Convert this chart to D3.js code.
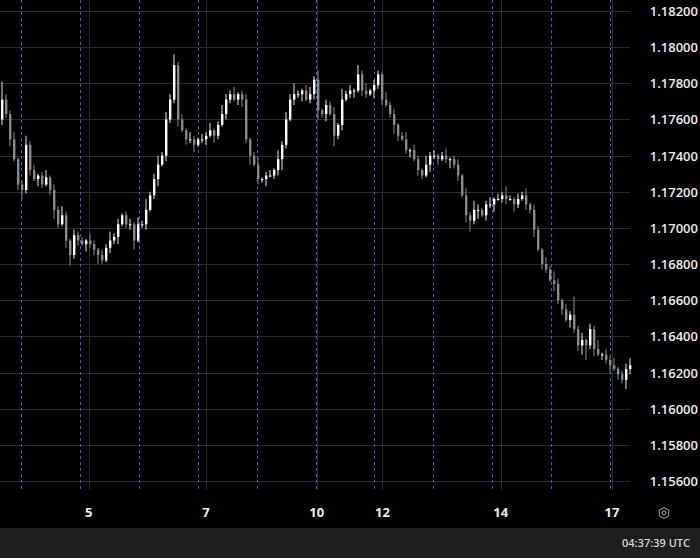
<!DOCTYPE html>
<html>
<head>
<meta charset="utf-8">
<script src="https://cdn.jsdelivr.net/npm/d3@7"></script>
<style>
body { margin: 0; background: #000; }
svg { display: block; font-family: "Open Sans", "DejaVu Sans", sans-serif; }
</style>
</head>
<body>
<svg id="chart" width="700" height="558"></svg>
<script>
var closes = [1.1771, 1.1763, 1.1749, 1.1738, 1.1724, 1.1721, 1.1746, 1.1732, 1.1727, 1.1729,
	1.1724, 1.1728, 1.1721, 1.1710, 1.1702, 1.1707, 1.1693, 1.1685, 1.1696, 1.1693,
	1.1691, 1.1693, 1.1691, 1.1688, 1.1685, 1.1682, 1.1689, 1.1693, 1.1695, 1.1702,
	1.1707, 1.1702, 1.1702, 1.1693, 1.1702, 1.1702, 1.1710, 1.1718, 1.1727, 1.1735,
	1.1740, 1.1760, 1.1771, 1.1790, 1.1760, 1.1754, 1.1749, 1.1749, 1.1746, 1.1749,
	1.1749, 1.1751, 1.1754, 1.1751, 1.1757, 1.1763, 1.1771, 1.1774, 1.1771, 1.1774,
	1.1771, 1.1749, 1.1740, 1.1735, 1.1727, 1.1727, 1.1729, 1.1729, 1.1732, 1.1738,
	1.1746, 1.1760, 1.1771, 1.1774, 1.1774, 1.1776, 1.1771, 1.1774, 1.1782, 1.1765,
	1.1763, 1.1768, 1.1763, 1.1751, 1.1757, 1.1771, 1.1774, 1.1776, 1.1776, 1.1785,
	1.1776, 1.1774, 1.1776, 1.1779, 1.1785, 1.1771, 1.1768, 1.1763, 1.1757, 1.1751,
	1.1749, 1.1743, 1.1743, 1.1738, 1.1732, 1.1729, 1.1735, 1.1740, 1.1740, 1.1738,
	1.1740, 1.1738, 1.1738, 1.1735, 1.1729, 1.1718, 1.1707, 1.1704, 1.1710, 1.1710,
	1.1707, 1.1713, 1.1713, 1.1716, 1.1716, 1.1718, 1.1716, 1.1716, 1.1713, 1.1716,
	1.1718, 1.1713, 1.1710, 1.1699, 1.1688, 1.1680, 1.1677, 1.1671, 1.1669, 1.1660,
	1.1655, 1.1649, 1.1652, 1.1644, 1.1635, 1.1638, 1.1635, 1.1644, 1.1633, 1.1630,
	1.1630, 1.1627, 1.1624, 1.1622, 1.1619, 1.1616, 1.1622, 1.1624];
var firstOpen = 1.1760;
// wick lengths in pips above / below the body
var wickUp = [10, 3, 2, 4, 1, 2, 5, 2, 3, 1, 2, 4, 1, 3, 2, 5, 2, 1, 3, 2,
	2, 1, 4, 2, 1, 3, 2, 5, 2, 3, 1, 2, 3, 1, 4, 2, 6, 2, 3, 5,
	2, 4, 3, 6, 2, 3, 1, 4, 2, 1, 3, 2, 4, 1, 2, 5, 3, 2, 4, 1,
	2, 3, 1, 2, 4, 1, 2, 3, 1, 5, 2, 4, 3, 6, 2, 1, 3, 4, 2, 5,
	1, 3, 2, 4, 1, 6, 2, 3, 1, 5, 2, 4, 1, 3, 2, 1, 4, 2, 3, 1,
	2, 4, 1, 3, 2, 1, 5, 2, 3, 1, 2, 4, 1, 2, 3, 1, 4, 2, 5, 3,
	1, 2, 4, 1, 3, 2, 5, 2, 1, 3, 2, 4, 1, 3, 2, 1, 4, 2, 5, 3,
	1, 3, 2, 10, 2, 4, 1, 3, 2, 5, 1, 3, 2, 4, 1, 2, 3, 4];
var wickDown = [3, 2, 4, 1, 3, 5, 2, 3, 1, 4, 2, 1, 3, 5, 2, 1, 4, 6, 2, 3,
	1, 4, 2, 3, 5, 2, 1, 3, 2, 4, 1, 2, 3, 5, 1, 2, 3, 1, 2, 4,
	1, 3, 2, 2, 4, 1, 3, 2, 4, 1, 2, 3, 1, 4, 2, 1, 3, 2, 1, 3,
	4, 2, 5, 1, 3, 2, 4, 1, 2, 3, 6, 2, 1, 3, 2, 4, 1, 2, 3, 5,
	2, 4, 1, 6, 2, 3, 1, 2, 4, 1, 3, 2, 1, 4, 2, 3, 1, 2, 5, 3,
	1, 2, 4, 1, 3, 2, 1, 4, 2, 3, 1, 2, 5, 2, 3, 1, 4, 6, 2, 5,
	1, 3, 2, 4, 1, 2, 3, 1, 4, 2, 1, 3, 2, 4, 1, 3, 2, 1, 4, 2,
	3, 1, 4, 2, 3, 5, 8, 2, 4, 1, 3, 2, 4, 1, 3, 2, 5, 3];
var priceTicks = [1.182, 1.180, 1.178, 1.176, 1.174, 1.172, 1.170, 1.168, 1.166, 1.164, 1.162, 1.160, 1.158, 1.156];
var dayLabels = ["5", "7", "10", "12", "14", "17"];
var dayIndex = [22.2, 51.5, 79.2, 95.6, 125.2, 153];
var sessionBreaks = [5.25, 20, 34.75, 49.5, 64.25, 79, 93.6, 108.3, 123, 137.8, 152.5];

function init() {
	var svg = d3.select("#chart");
	var plotRight = 630;
	var x = d3.scaleLinear().domain([0, 158]).range([0, 632]);
	var y = d3.scaleLinear().domain([1.156, 1.182]).range([481, 11]);

	var candles = [];
	for (var ii = 0; ii < closes.length; ++ii) {
		var o = ii == 0 ? firstOpen : closes[ii - 1];
		var c = closes[ii];
		candles.push({ i: ii, o: o, c: c,
			h: Math.max(o, c) + wickUp[ii] * 0.0001,
			l: Math.min(o, c) - wickDown[ii] * 0.0001 });
	}

	svg.append("rect").attr("x", 0).attr("y", 0).attr("width", 700).attr("height", 558).attr("fill", "#000");

	svg.selectAll("line.hgrid")
		.data(priceTicks)
		.enter()
		.append("line")
		.attr("class", "hgrid")
		.attr("x1", 0).attr("x2", plotRight)
		.attr("y1", function(d) { return Math.round(y(d)) + 0.5; })
		.attr("y2", function(d) { return Math.round(y(d)) + 0.5; })
		.attr("stroke", "#2b2b2b");

	svg.selectAll("line.dgrid")
		.data(dayIndex)
		.enter()
		.append("line")
		.attr("class", "dgrid")
		.attr("x1", function(d) { return Math.round(x(d)) + 0.5; })
		.attr("x2", function(d) { return Math.round(x(d)) + 0.5; })
		.attr("y1", 0).attr("y2", 490)
		.attr("stroke", "#2b2b2b");

	svg.selectAll("line.session")
		.data(sessionBreaks)
		.enter()
		.append("line")
		.attr("class", "session")
		.attr("x1", function(d) { return Math.round(x(d)) + 0.5; })
		.attr("x2", function(d) { return Math.round(x(d)) + 0.5; })
		.attr("y1", 0).attr("y2", 490)
		.attr("stroke", "#2e64c0")
		.attr("stroke-dasharray", "3,3");

	var g = svg.append("g");
	g.selectAll("line.wick")
		.data(candles)
		.enter()
		.append("line")
		.attr("x1", function(d) { return x(d.i + 0.5); })
		.attr("x2", function(d) { return x(d.i + 0.5); })
		.attr("y1", function(d) { return y(d.h); })
		.attr("y2", function(d) { return y(d.l); })
		.attr("stroke", function(d) { return d.c >= d.o ? "#e6e6e6" : "#8a8a8a"; })
		.attr("stroke-width", 1);
	g.selectAll("rect.body")
		.data(candles)
		.enter()
		.append("rect")
		.attr("x", function(d) { return x(d.i + 0.5) - 1; })
		.attr("width", 2.4)
		.attr("y", function(d) { return y(Math.max(d.o, d.c)); })
		.attr("height", function(d) { return Math.max(1, Math.abs(y(d.o) - y(d.c))); })
		.attr("fill", function(d) { return d.c >= d.o ? "#ffffff" : "#8a8a8a"; });

	svg.selectAll("text.price")
		.data(priceTicks)
		.enter()
		.append("text")
		.attr("x", 698).attr("y", function(d) { return y(d) + 5; })
		.attr("text-anchor", "end")
		.attr("fill", "#ececec")
		.style("font-size", "13px")
		.style("font-weight", "600")
		.text(function(d) { return d.toFixed(5); });

	svg.selectAll("text.day")
		.data(dayLabels)
		.enter()
		.append("text")
		.attr("x", function(d, i) { return x(dayIndex[i]); })
		.attr("y", 517)
		.attr("text-anchor", "middle")
		.attr("fill", "#ececec")
		.style("font-size", "13px")
		.style("font-weight", "bold")
		.text(function(d) { return d; });

	// settings icon
	svg.append("path")
		.attr("d", d3.range(6).map(function(k) {
			var a = Math.PI / 3 * k + Math.PI / 6;
			return (k == 0 ? "M" : "L") + (664 + 5.5 * Math.cos(a)) + "," + (513 + 5.5 * Math.sin(a));
		}).join("") + "Z")
		.attr("fill", "none").attr("stroke", "#aaa");
	svg.append("circle").attr("cx", 664).attr("cy", 513).attr("r", 2).attr("fill", "none").attr("stroke", "#aaa");

	svg.append("rect").attr("x", 0).attr("y", 528).attr("width", 700).attr("height", 30).attr("fill", "#1e1e1e");
	svg.append("text")
		.attr("x", 690).attr("y", 547)
		.attr("text-anchor", "end")
		.attr("fill", "#d4d4d4")
		.style("font-size", "11px")
		.style("font-weight", "600")
		.text("04:37:39 UTC");
}

init();
</script>
</body>
</html>
